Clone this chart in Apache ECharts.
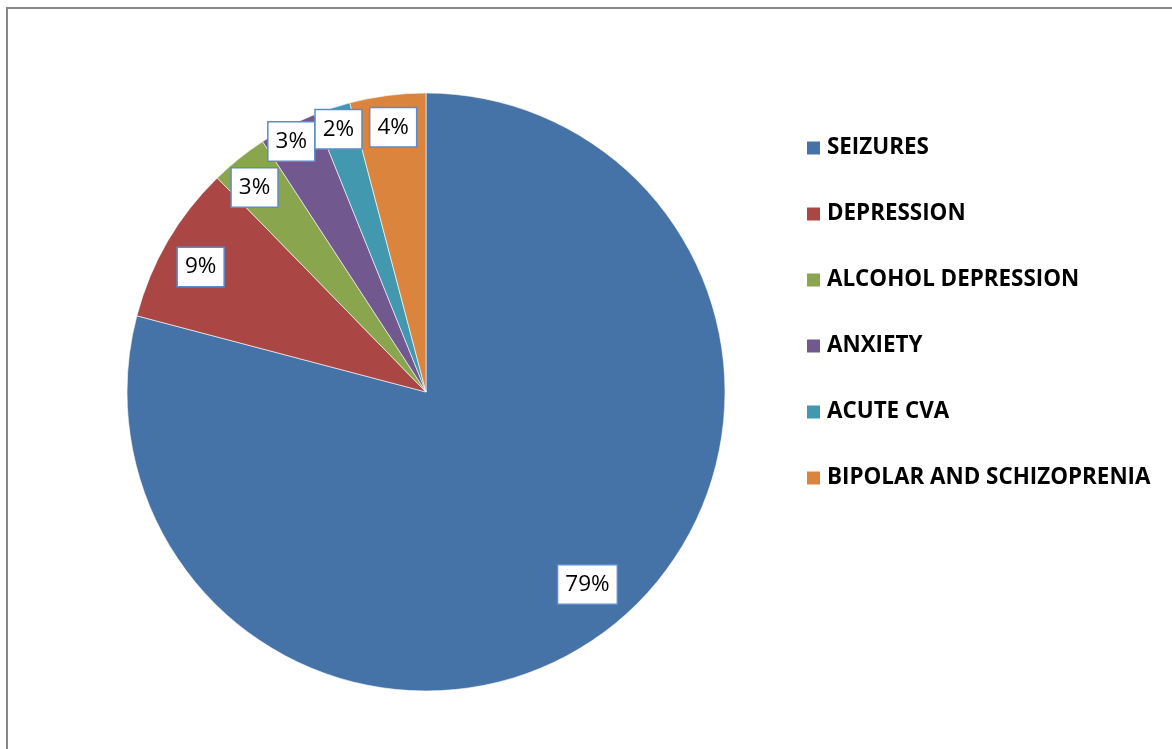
<!DOCTYPE html>
<html>
<head>
<meta charset="utf-8">
<script src="https://cdn.jsdelivr.net/npm/echarts@6/dist/echarts.min.js"></script>
<style>
html,body{margin:0;padding:0;background:#fff;}
#chart{width:1172px;height:749px;}
</style>
</head>
<body>
<div id="chart"></div>
<script>
const categories = ['SEIZURES', 'DEPRESSION', 'ALCOHOL DEPRESSION', 'ANXIETY', 'ACUTE CVA', 'BIPOLAR AND SCHIZOPRENIA'];
const values = [79.1, 8.6, 3.1, 3.1, 2.0, 4.1];

// style / layout settings
const colors = ['#4572A7', '#AA4643', '#89A54E', '#71588F', '#4198AF', '#DB843D'];
const CX = 426, CY = 392, R = 299;
const labelRadius = [250, 259, 268, 284, 278, 268];
const labelNudge = [[7, -8], [1, 7], [-2, 7], [-2, 4], [1, 4], [2, 4]];

const chart = echarts.init(document.getElementById('chart'), null, {renderer: 'canvas'});

const labelStyle = {
  show: true,
  position: 'inside',
  formatter: p => Math.round(p.percent) + '%',
  fontFamily: 'Open Sans',
  fontSize: 22.5,
  lineHeight: 24,
  color: '#000',
  backgroundColor: '#fff',
  borderColor: '#5b8bc9',
  borderWidth: 1.5,
  padding: [9, 7, 5, 7]
};

const series = [{
  type: 'pie',
  name: 'main',
  center: [CX, CY],
  radius: [0, R],
  startAngle: 90,
  clockwise: true,
  silent: true,
  label: {show: false},
  labelLine: {show: false},
  itemStyle: {borderColor: '#fff', borderWidth: 0.6},
  data: categories.map((c, i) => ({name: c, value: values[i], itemStyle: {color: colors[i]}}))
}];

categories.forEach((c, k) => {
  series.push({
    type: 'pie',
    name: 'label' + k,
    center: [CX, CY],
    radius: [2 * labelRadius[k] - R, R],
    startAngle: 90,
    clockwise: true,
    silent: true,
    avoidLabelOverlap: false,
    labelLayout: {hideOverlap: false, dx: labelNudge[k][0], dy: labelNudge[k][1]},
    z: 5,
    labelLine: {show: false},
    itemStyle: {color: 'rgba(0,0,0,0)', borderWidth: 0},
    data: categories.map((n, i) => ({
      name: n, value: values[i],
      label: i === k ? labelStyle : {show: false}
    }))
  });
});

chart.setOption({
  animation: false,
  backgroundColor: '#fff',
  graphic: [{
    type: 'rect',
    shape: {x: 7, y: 8, width: 1200, height: 800},
    style: {fill: null, stroke: '#878787', lineWidth: 2},
    silent: true
  }],
  legend: {
    orient: 'vertical',
    left: 805,
    top: 137,
    padding: 0,
    itemWidth: 15,
    itemHeight: 15,
    itemGap: 44,
    icon: 'rect',
    data: categories,
    selectedMode: false,
    textStyle: {
      fontFamily: 'Open Sans',
      fontWeight: 'bold',
      fontSize: 22.4,
      lineHeight: 22,
      color: '#000',
      padding: [0, 0, 0, 1]
    }
  },
  series: series
});
</script>
</body>
</html>
